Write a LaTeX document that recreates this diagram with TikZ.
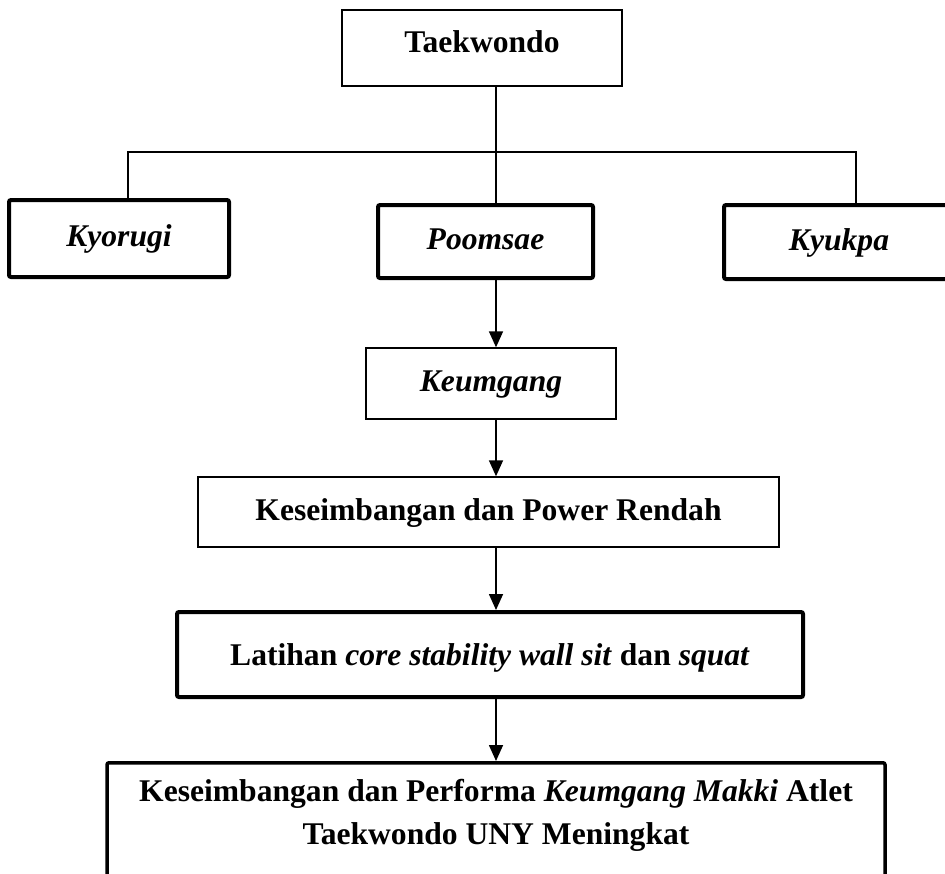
\documentclass[tikz,border=0pt]{standalone}
\usepackage{fontspec}
\setmainfont{Liberation Serif}
\usetikzlibrary{arrows.meta}

\tikzset{
  boxthin/.style={draw, line width=0.7pt, inner sep=0pt,
    font=\fontsize{15.8}{21.5}\selectfont\bfseries,
    text height=10.5pt, text depth=2.5pt},
  boxthick/.style={boxthin, line width=2pt, rounded corners=1pt},
  link/.style={line width=0.8pt},
  arr/.style={link, -{Triangle[length=8pt,width=7pt]}}
}

\begin{document}
\begin{tikzpicture}[x=0.5pt, y=-0.5pt]
  \useasboundingbox (0,0) rectangle (945,873);

  % top of the tree
  \node[boxthin, line width=1.4pt, text depth=6pt,
    minimum width=140pt, minimum height=38pt] (taek) at (482,48) {Taekwondo};
  \node[boxthick, minimum width=110pt, minimum height=38.5pt]
    (kyor) at (119,238.5) {\textit{Kyorugi}};
  \node[boxthick, minimum width=107.5pt, minimum height=36.5pt]
    (poom) at (485.5,241.5) {\textit{Poomsae}};
  \node[boxthick, minimum width=115pt, minimum height=37pt]
    (kyuk) at (839,242) {\textit{Kyukpa}};

  % chain below Poomsae
  \node[boxthin, minimum width=125pt, minimum height=35.5pt]
    (keum) at (491,383.5) {\textit{Keumgang}};
  \node[boxthin, minimum width=290.5pt, minimum height=35pt]
    (kes) at (488.5,512) {Keseimbangan dan Power Rendah};
  \node[boxthick, text depth=0pt, minimum width=313pt, minimum height=42.5pt]
    (lat) at (490,654.5) {Latihan \textit{core stability wall sit} dan \textit{squat}};
  \node[boxthick, line width=1.75pt, anchor=north,
    minimum width=389pt, minimum height=75pt] (hasil) at (496,761) {};
  \node[font=\fontsize{15.8}{21.5}\selectfont\bfseries, align=center, inner sep=0pt]
    (hasil-t) at (496,815)
    {Keseimbangan dan Performa \textit{Keumgang Makki} Atlet\\Taekwondo UNY Meningkat};

  % connectors
  \coordinate (axis) at (496,152);
  \coordinate (busl) at (128,152);
  \coordinate (busr) at (856,152);
  \draw[link] (taek.south -| axis) -- (poom.north -| axis);
  \draw[link] (kyor.north -| busl) |- (busr) -- (kyuk.north -| busr);
  \draw[arr] (poom.south -| axis) -- (keum.north -| axis);
  \draw[arr] (keum.south -| axis) -- (kes.north -| axis);
  \draw[arr] (kes.south -| axis) -- (lat.north -| axis);
  \draw[arr] (lat.south -| axis) -- (hasil.north -| axis);
\end{tikzpicture}
\end{document}
